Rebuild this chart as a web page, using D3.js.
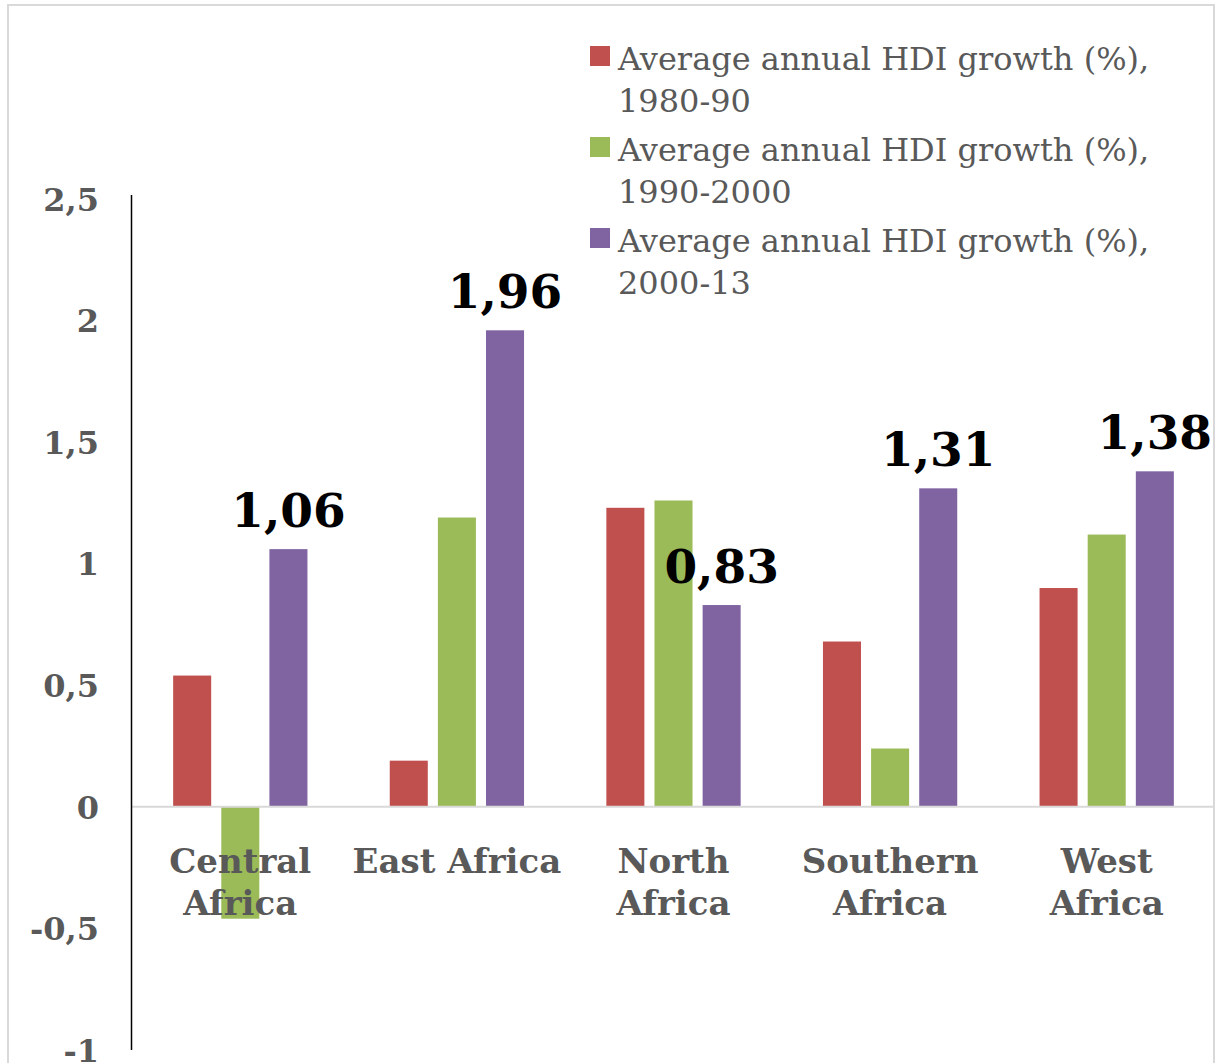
<!DOCTYPE html>
<html>
<head>
<meta charset="utf-8">
<script src="https://cdn.jsdelivr.net/npm/d3@7"></script>
<style>
  body { margin: 0; background: #fff; }
  svg { display: block; }
</style>
</head>
<body>
<div id="chart"></div>
<script>
// data
var regions = ["Central Africa", "East Africa", "North Africa", "Southern Africa", "West Africa"];
var regionLines = [["Central", "Africa"], ["East Africa"], ["North", "Africa"], ["Southern", "Africa"], ["West", "Africa"]];
var seriesNames = ["Average annual HDI growth (%), 1980-90",
                   "Average annual HDI growth (%), 1990-2000",
                   "Average annual HDI growth (%), 2000-13"];
var legendLines = [["Average annual HDI growth (%),", "1980-90"],
                   ["Average annual HDI growth (%),", "1990-2000"],
                   ["Average annual HDI growth (%),", "2000-13"]];
var growth1980 = [0.54, 0.19, 1.23, 0.68, 0.90];
var growth1990 = [-0.46, 1.19, 1.26, 0.24, 1.12];
var growth2000 = [1.06, 1.96, 0.83, 1.31, 1.38];
var labels2000 = ["1,06", "1,96", "0,83", "1,31", "1,38"];
var yTicks = [-1, -0.5, 0, 0.5, 1, 1.5, 2, 2.5];
var colors = ["#C0504D", "#9BBB59", "#8064A2"];

var svgWidth = 1215;
var svgHeight = 1063;
var serif = "Georgia, 'DejaVu Serif', serif";

var svg = d3.select("#chart")
  .append("svg")
  .attr("width", svgWidth)
  .attr("height", svgHeight);

// chart border
svg.append("rect")
  .attr("x", 8).attr("y", 5)
  .attr("width", 1206).attr("height", 1070)
  .attr("fill", "none")
  .attr("stroke", "#d9d9d9")
  .attr("stroke-width", 2);

var rows = regions.map((r, i) => ({
  region: r,
  lines: regionLines[i],
  values: [growth1980[i], growth1990[i], growth2000[i]]
}));

// scales
var yScale = d3.scaleLinear().domain([-1, 2.5]).range([1050, 199]);

var x0 = d3.scaleBand()
  .domain(regions)
  .range([132, 1215])
  .paddingInner(0.38)
  .paddingOuter(0.19);

var x1 = d3.scaleBand()
  .domain([0, 1, 2])
  .range([0, x0.bandwidth()])
  .paddingInner(0.21);

// y axis tick labels
var yAxis = d3.axisLeft(yScale)
  .tickValues(yTicks)
  .tickSize(0)
  .tickPadding(0)
  .tickFormat(d => String(d).replace(".", ","));

var gy = svg.append("g")
  .attr("transform", "translate(99,0)")
  .call(yAxis);
gy.select(".domain").remove();
gy.selectAll("text")
  .attr("font-family", serif)
  .attr("font-weight", "bold")
  .attr("font-size", 32)
  .attr("fill", "#595959")
  .attr("dy", "0.35em");

// bars
var groups = svg.selectAll(".group")
  .data(rows)
  .enter()
  .append("g")
  .attr("class", "group")
  .attr("transform", d => `translate(${x0(d.region)},0)`);

groups.selectAll("rect")
  .data(d => d.values.map((v, k) => ({ k: k, v: v })))
  .enter()
  .append("rect")
  .attr("x", d => x1(d.k))
  .attr("width", x1.bandwidth())
  .attr("y", d => yScale(Math.max(0, d.v)))
  .attr("height", d => Math.abs(yScale(d.v) - yScale(0)))
  .attr("fill", d => colors[d.k]);

// zero line
svg.append("line")
  .attr("x1", 132).attr("x2", 1215)
  .attr("y1", yScale(0)).attr("y2", yScale(0))
  .attr("stroke", "#d9d9d9")
  .attr("stroke-width", 2);

// vertical axis line
svg.append("line")
  .attr("x1", 131.5).attr("x2", 131.5)
  .attr("y1", 195).attr("y2", 1050)
  .attr("stroke", "#000")
  .attr("stroke-width", 1.5);

// category labels
var cat = svg.selectAll(".cat")
  .data(rows)
  .enter()
  .append("text")
  .attr("class", "cat")
  .attr("x", d => x0(d.region) + x0.bandwidth() / 2)
  .attr("y", 873)
  .attr("text-anchor", "middle")
  .attr("font-family", serif)
  .attr("font-weight", "bold")
  .attr("font-size", 34)
  .attr("fill", "#595959");
cat.selectAll("tspan")
  .data(d => d.lines.map(l => ({ l: l, x: x0(d.region) + x0.bandwidth() / 2 })))
  .enter()
  .append("tspan")
  .attr("x", d => d.x)
  .attr("dy", (d, i) => i === 0 ? 0 : 42)
  .text(d => d.l);

// data labels on 2000-13 bars
svg.selectAll(".vlabel")
  .data(rows)
  .enter()
  .append("text")
  .attr("class", "vlabel")
  .attr("x", d => x0(d.region) + x1(2) + x1.bandwidth() / 2)
  .attr("y", d => yScale(d.values[2]) - 22)
  .attr("text-anchor", "middle")
  .attr("font-family", serif)
  .attr("font-weight", "bold")
  .attr("font-size", 47)
  .attr("fill", "#000")
  .text((d, i) => labels2000[i]);

// legend
var legend = svg.selectAll(".legend")
  .data(seriesNames)
  .enter()
  .append("g")
  .attr("class", "legend")
  .attr("transform", (d, i) => `translate(590,${46 + i * 91})`);

legend.append("rect")
  .attr("width", 20).attr("height", 20)
  .attr("fill", (d, i) => colors[i]);

legend.append("text")
  .attr("font-family", serif)
  .attr("font-size", 32)
  .attr("fill", "#595959")
  .selectAll("tspan")
  .data((d, i) => legendLines[i])
  .enter()
  .append("tspan")
  .attr("x", 28)
  .attr("y", (d, j) => 24 + j * 42)
  .text(d => d);
</script>
</body>
</html>
